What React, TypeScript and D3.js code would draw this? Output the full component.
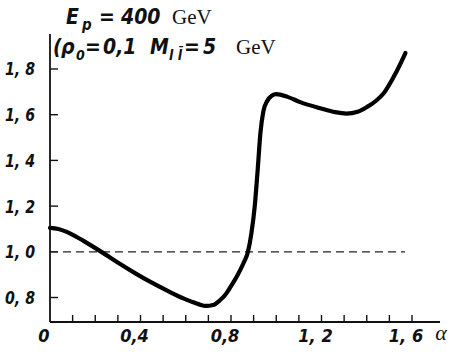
import React from 'react';
import * as d3 from 'd3';

// values
const alphaVals = [0, 0.037, 0.074, 0.111, 0.148, 0.222, 0.296, 0.37, 0.444, 0.518, 0.592, 0.625, 0.656, 0.69, 0.72, 0.75, 0.775, 0.8, 0.83, 0.855, 0.875, 0.89, 0.905, 0.918, 0.93, 0.943, 0.96, 0.98, 1.0, 1.05, 1.106, 1.195, 1.26, 1.31, 1.36, 1.4, 1.44, 1.475, 1.527, 1.571];
const ratioVals = [1.105, 1.1, 1.087, 1.069, 1.048, 1.003, 0.955, 0.91, 0.868, 0.83, 0.795, 0.782, 0.771, 0.763, 0.767, 0.787, 0.812, 0.85, 0.9, 0.95, 1.0, 1.08, 1.2, 1.36, 1.52, 1.615, 1.66, 1.683, 1.69, 1.678, 1.655, 1.628, 1.611, 1.605, 1.613, 1.633, 1.66, 1.694, 1.78, 1.87];

const yTicks = [0.8, 1.0, 1.2, 1.4, 1.6, 1.8];
const yTickLabels = ['0, 8', '1, 0', '1, 2', '1, 4', '1, 6', '1, 8'];
const xMinorTicks = [0.1, 0.2, 0.3, 0.4, 0.5, 0.6, 0.7, 0.8, 0.9, 1.0, 1.1, 1.2, 1.3, 1.4, 1.5, 1.6];
const xTicks = [0, 0.4, 0.8, 1.2, 1.6];
const xTickLabels = ['0', '0,4', '0,8', '1, 2', '1, 6'];
const refLevel = 1.0;

const numFont = '"DejaVu Sans Condensed", "DejaVu Sans", sans-serif';
const serifFont = '"Liberation Serif", "DejaVu Serif", serif';

export default function App() {
  const width = 454;
  const height = 352;

  const x = d3.scaleLinear().domain([0, 1.6]).range([50, 412]);
  const y = d3.scaleLinear().domain([0.8, 1.8]).range([297.5, 69]);

  const axisY = 322;
  const pts: [number, number][] = alphaVals.map((a, i) => [a, ratioVals[i]]);
  const line = d3.line<[number, number]>()
    .x(d => x(d[0]))
    .y(d => y(d[1]))
    .curve(d3.curveMonotoneX);

  const num = { fontFamily: numFont, fontStyle: 'italic', fontWeight: 'bold', fill: '#111' } as const;

  return (
    <svg width={width} height={height} style={{ position: 'absolute', left: 0, top: 0, background: '#fff' }}>
      {/* axes */}
      <line x1={x(0)} x2={x(0)} y1={34} y2={axisY} stroke="#111" strokeWidth={1.8} />
      <line x1={x(0)} x2={440} y1={axisY} y2={axisY} stroke="#111" strokeWidth={1.8} />

      {yTicks.map((t, i) => (
        <g key={'y' + i}>
          <line x1={x(0)} x2={x(0) + 8} y1={y(t)} y2={y(t)} stroke="#111" strokeWidth={1.4} />
          <text x={35} y={y(t)} dy="0.36em" textAnchor="end" {...num}
            fontSize={18} textLength={30} lengthAdjust="spacingAndGlyphs">{yTickLabels[i]}</text>
        </g>
      ))}

      {xMinorTicks.map((t, i) => (
        <line key={'xm' + i} x1={x(t)} x2={x(t)} y1={axisY} y2={axisY - 7} stroke="#111" strokeWidth={1.4} />
      ))}
      {xTicks.map((t, i) => (
        <text key={'xl' + i} x={x(t) - 6} y={342} textAnchor="middle" {...num}
          fontSize={18}>{xTickLabels[i]}</text>
      ))}
      <text x={441} y={340} textAnchor="middle" fontFamily={serifFont} fontStyle="italic"
        fontSize={22} fill="#111">α</text>

      {/* reference level */}
      <line x1={x(0)} x2={405} y1={y(refLevel)} y2={y(refLevel)} stroke="#222"
        strokeWidth={1.2} strokeDasharray="8 5" />

      {/* curve */}
      <path d={line(pts) || ''} fill="none" stroke="#000" strokeWidth={4.2} strokeLinecap="round" strokeLinejoin="round" />

      {/* annotation line 1 */}
      <g fontSize={21}>
        <text x={66} y={24} {...num}>E</text>
        <text x={82} y={30} {...num} fontSize={15}>p</text>
        <text x={99} y={24} {...num}>=</text>
        <text x={121} y={24} {...num}>400</text>
        <text x={172} y={24} fontFamily={serifFont} fill="#111">GeV</text>
      </g>
      {/* annotation line 2 */}
      <g fontSize={21}>
        <text x={53} y={54} {...num}>(</text>
        <text x={61} y={54} {...num}>ρ</text>
        <text x={76} y={60} {...num} fontSize={14}>0</text>
        <text x={85} y={54} {...num}>=</text>
        <text x={103} y={54} {...num}>0,1</text>
        <text x={150} y={54} {...num}>M</text>
        <text x={169} y={60} {...num} fontSize={14}>l l̄</text>
        <text x={184} y={54} {...num}>=</text>
        <text x={203} y={54} {...num}>5</text>
        <text x={236} y={54} fontFamily={serifFont} fill="#111">GeV</text>
      </g>
    </svg>
  );
}
